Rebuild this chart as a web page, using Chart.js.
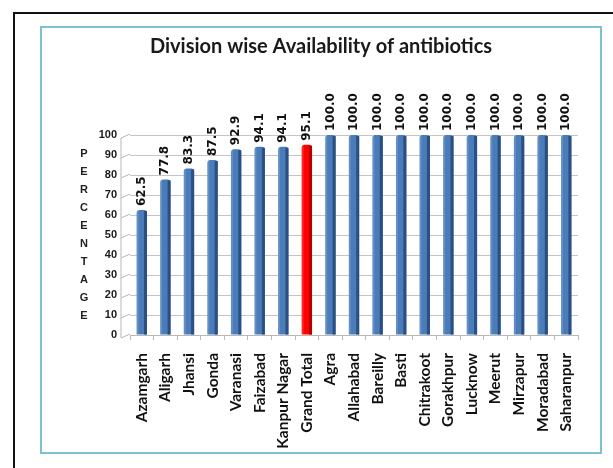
<!DOCTYPE html>
<html>
<head>
<meta charset="utf-8">
<script src="https://cdn.jsdelivr.net/npm/chart.js@4"></script>
<style>
  html, body { margin: 0; padding: 0; background: #ffffff; width: 613px; height: 468px; overflow: hidden; }
  #outer { position: absolute; left: 13px; top: 12px; width: 620px; height: 480px; border: 2px solid #111; box-sizing: border-box; }
  #inner { position: absolute; left: 40px; top: 26px; width: 562px; height: 428px; border: 2px solid #7cc2d2; box-sizing: border-box; }
  #wrap { position: absolute; left: 43px; top: 29px; width: 556px; height: 422px; }
</style>
</head>
<body>
<div id="outer"></div>
<div id="inner"></div>
<div id="wrap"><canvas id="c" width="556" height="422"></canvas></div>
<script>
const titleText = "Division wise Availability of antibiotics";
const yAxisTitle = "PERCENTAGE";
const categories = ["Azamgarh", "Aligarh", "Jhansi", "Gonda", "Varanasi", "Faizabad", "Kanpur Nagar", "Grand Total", "Agra", "Allahabad", "Bareilly", "Basti", "Chitrakoot", "Gorakhpur", "Lucknow", "Meerut", "Mirzapur", "Moradabad", "Saharanpur"];
const values = [62.5, 77.8, 83.3, 87.5, 92.9, 94.1, 94.1, 95.1, 100.0, 100.0, 100.0, 100.0, 100.0, 100.0, 100.0, 100.0, 100.0, 100.0, 100.0];
const yTicks = [0, 10, 20, 30, 40, 50, 60, 70, 80, 90, 100];
const highlightCategory = "Grand Total";

const blue = "#4a7cba", blueDark = "#2b4f80";
const red = "#ff0000", redDark = "#b50000";
const barColors = categories.map(c => c === highlightCategory ? red : blue);
const sideColors = categories.map(c => c === highlightCategory ? redDark : blueDark);

const shading = {
  id: "shading",
  afterDatasetsDraw(chart) {
    const ctx = chart.ctx;
    const meta = chart.getDatasetMeta(0);
    ctx.save();
    meta.data.forEach((bar, i) => {
      const w = bar.width;
      const right = bar.x + w / 2;
      ctx.fillStyle = sideColors[i];
      ctx.fillRect(right - 3, bar.y + 1, 3, bar.base - bar.y - 1);
      ctx.fillStyle = "rgba(255,255,255,0.15)";
      ctx.fillRect(bar.x - w / 2, bar.y, 2, bar.base - bar.y);
    });
    ctx.restore();
  }
};

const dataLabels = {
  id: "dataLabels",
  afterDatasetsDraw(chart) {
    const ctx = chart.ctx;
    const meta = chart.getDatasetMeta(0);
    ctx.save();
    ctx.font = "bold 12px 'DejaVu Sans'";
    ctx.fillStyle = "#111";
    ctx.textAlign = "left";
    ctx.textBaseline = "middle";
    meta.data.forEach((bar, i) => {
      ctx.save();
      ctx.translate(bar.x, bar.y - 4);
      ctx.rotate(-Math.PI / 2);
      ctx.fillText(values[i].toFixed(1), 0, 0);
      ctx.restore();
    });
    ctx.restore();
  }
};

const stackedTitle = {
  id: "stackedTitle",
  afterDraw(chart) {
    const ctx = chart.ctx;
    const area = chart.chartArea;
    const letters = yAxisTitle.split("");
    const step = 17.9;
    const cy = (area.top + area.bottom) / 2;
    const start = cy - step * (letters.length - 1) / 2;
    ctx.save();
    ctx.font = "bold 11px 'Liberation Sans'";
    ctx.fillStyle = "#222";
    ctx.textAlign = "center";
    ctx.textBaseline = "middle";
    letters.forEach((l, i) => ctx.fillText(l, 41, start + i * step));
    ctx.restore();
  }
};

const slant = {
  id: "slant",
  beforeDatasetsDraw(chart) {
    const ctx = chart.ctx;
    const y = chart.scales.y;
    const left = chart.chartArea.left;
    ctx.save();
    ctx.strokeStyle = "#b8b8b8";
    ctx.lineWidth = 1;
    yTicks.forEach(v => {
      const py = y.getPixelForValue(v);
      ctx.beginPath();
      ctx.moveTo(left - 9, py + 3);
      ctx.lineTo(left, py - 1);
      ctx.stroke();
    });
    ctx.beginPath();
    ctx.moveTo(left - 9, y.getPixelForValue(0) + 3);
    ctx.lineTo(left - 9, y.getPixelForValue(100) + 3);
    ctx.stroke();
    ctx.restore();
  }
};

new Chart(document.getElementById("c"), {
  type: "bar",
  data: {
    labels: categories,
    datasets: [{
      data: values,
      backgroundColor: barColors,
      borderWidth: 0,
      borderRadius: { topLeft: 3, topRight: 3 },
      borderSkipped: "bottom",
      barPercentage: 0.44,
      categoryPercentage: 1.0
    }]
  },
  options: {
    responsive: false,
    animation: false,
    events: [],
    layout: { padding: { left: 21, right: 21, top: 0, bottom: 0 } },
    plugins: {
      legend: { display: false },
      tooltip: { enabled: false },
      title: {
        display: true,
        text: titleText,
        color: "#1a1a1a",
        font: { family: "Lato", size: 20, weight: "bold" },
        padding: { top: 6, bottom: 76 }
      }
    },
    scales: {
      x: {
        afterFit: s => { s.height = 116; },
        grid: { display: true, drawOnChartArea: false, offset: true, color: "#b8b8b8", tickLength: 5 },
        border: { display: true, color: "#b8b8b8" },
        ticks: {
          autoSkip: false,
          minRotation: 90,
          maxRotation: 90,
          padding: 13,
          color: "#111",
          font: { family: "Lato", size: 15.5, weight: "bold" }
        }
      },
      y: {
        min: 0,
        max: 100,
        afterFit: s => { s.width = 66; },
        afterBuildTicks: s => { s.ticks = yTicks.map(v => ({ value: v })); },
        grid: { color: "#c4c4c4", drawTicks: false },
        border: { display: false },
        ticks: {
          padding: 13,
          color: "#1a1a1a",
          font: { family: "Liberation Sans", size: 11, weight: "bold" }
        }
      }
    }
  },
  plugins: [slant, shading, dataLabels, stackedTitle]
});
</script>
</body>
</html>
